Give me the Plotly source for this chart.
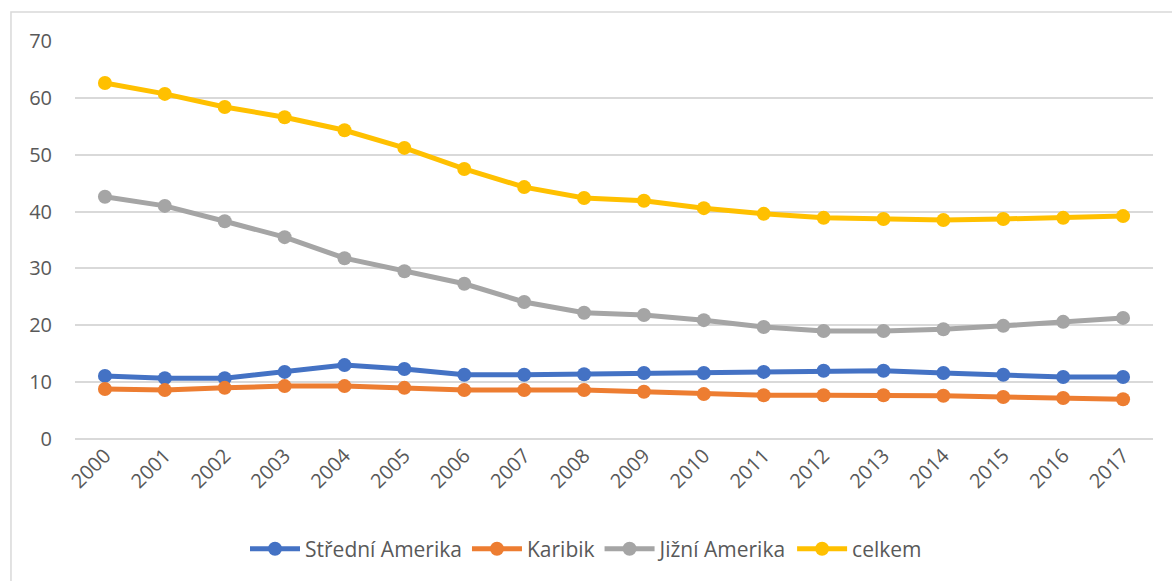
import plotly.graph_objects as go

years = [str(y) for y in range(2000, 2018)]

stredni = [11.1, 10.7, 10.7, 11.8, 13.0, 12.3, 11.3, 11.3, 11.4, 11.6, 11.6, 11.8, 12.0, 12.0, 11.6, 11.3, 10.9, 10.9]
karibik = [8.8, 8.6, 9.0, 9.3, 9.3, 9.0, 8.6, 8.6, 8.6, 8.3, 7.9, 7.7, 7.7, 7.7, 7.6, 7.4, 7.2, 7.0]
jizni = [42.6, 41.0, 38.3, 35.5, 31.8, 29.5, 27.3, 24.1, 22.2, 21.8, 20.9, 19.7, 19.0, 19.0, 19.3, 19.9, 20.6, 21.3]
celkem = [62.6, 60.7, 58.4, 56.6, 54.3, 51.2, 47.5, 44.3, 42.4, 41.9, 40.6, 39.6, 38.9, 38.7, 38.5, 38.7, 38.9, 39.2]

series = [
    ("Střední Amerika", stredni, "#4472C4"),
    ("Karibik", karibik, "#ED7D31"),
    ("Jižní Amerika", jizni, "#A5A5A5"),
    ("celkem", celkem, "#FFC000"),
]

fig = go.Figure()
for name, vals, color in series:
    fig.add_trace(go.Scatter(
        x=years, y=vals, name=name, mode="lines+markers",
        line=dict(color=color, width=5),
        marker=dict(color=color, size=14),
    ))

fig.update_layout(
    width=1172, height=581,
    margin=dict(l=75, r=19, t=41, b=142),
    plot_bgcolor="white",
    paper_bgcolor="white",
    font=dict(family="Open Sans", color="#595959", size=20),
    legend=dict(orientation="h", x=0.5, xanchor="center", xref="container",
                y=0.055, yanchor="middle", yref="container",
                font=dict(size=21), itemwidth=50),
    xaxis=dict(type="category", tickangle=-45, showgrid=False, showline=False,
               range=[-0.5, len(years) - 0.5],
               ticks="", tickfont=dict(size=20), automargin=False),
    yaxis=dict(range=[0, 70], dtick=10, gridcolor="#D9D9D9", gridwidth=1.5,
               zeroline=True, zerolinecolor="#D9D9D9", zerolinewidth=1.5,
               showline=False, ticks="", ticklabelstandoff=22, tickfont=dict(size=20),
               automargin=False),
)

# light frame around the whole chart, as in the Excel original
fig.add_shape(type="rect", xref="paper", yref="paper",
              x0=-0.0594, x1=1.05, y0=-0.45, y1=1.073,
              line=dict(color="#D9D9D9", width=1.5), layer="below")

fig.write_html("out.html", config={"displayModeBar": False},
               post_script="document.body.style.margin='0';")
